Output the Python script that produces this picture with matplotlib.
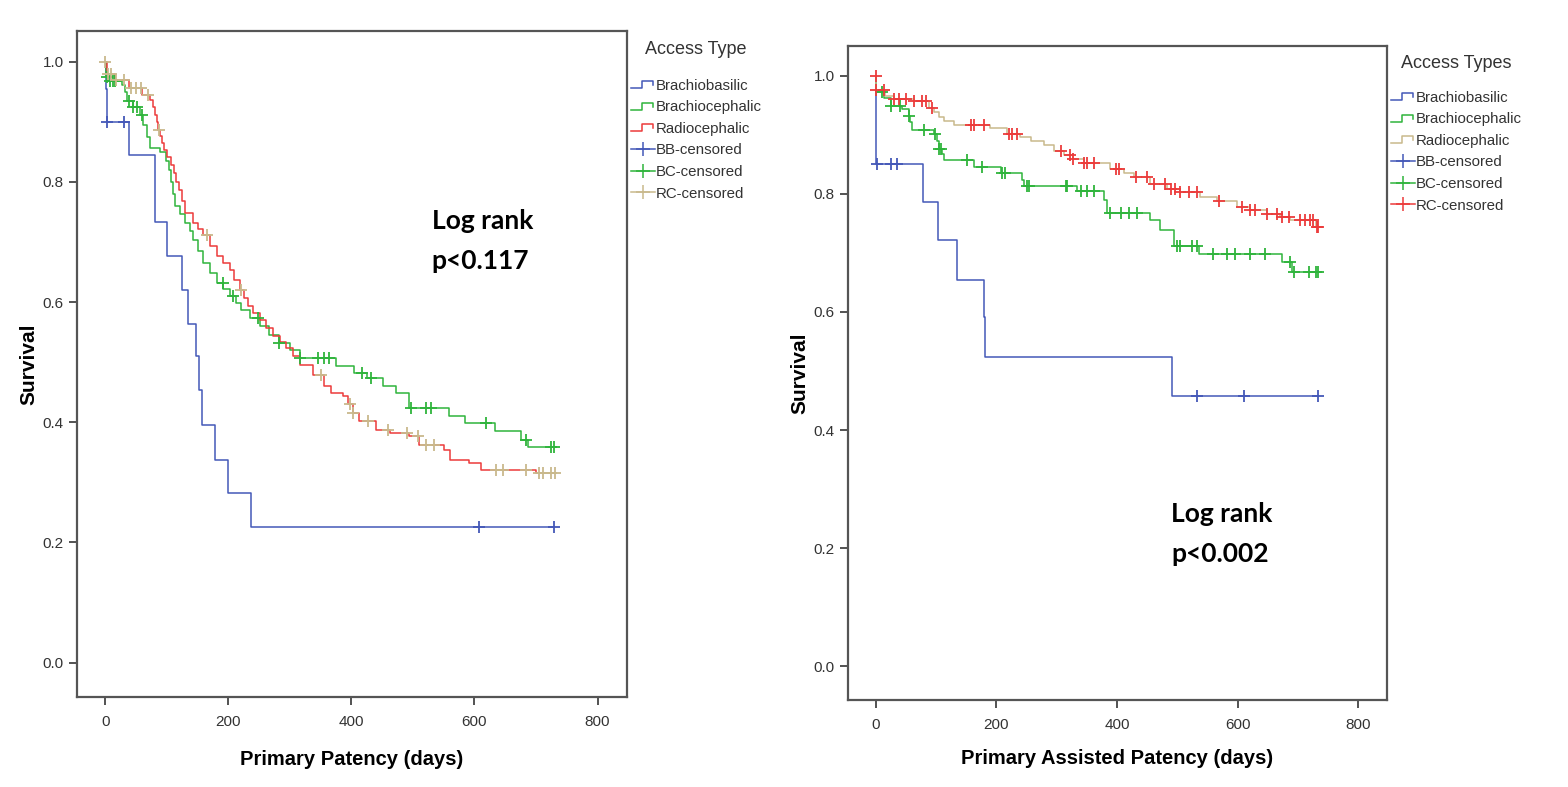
import matplotlib
matplotlib.use('Agg')
import matplotlib.pyplot as plt
from matplotlib.lines import Line2D
from matplotlib.legend_handler import HandlerBase
import numpy as np

# colours of the SPSS-style survival plot
BLUE = '#4458b8'
GREEN = '#2fb43c'
RED = '#ec3b3b'
TAN = '#c9b98c'

# ---- Primary patency (left panel) ----
pp_bb_t = [0, 0.5, 2, 38, 80, 101, 125, 135, 148, 152, 157, 178, 200, 237, 730]
pp_bb_s = [1.0, 0.955, 0.90, 0.845, 0.733, 0.676, 0.62, 0.564, 0.51, 0.453, 0.395, 0.338, 0.282, 0.226, 0.226]
pp_bb_cens = [3, 30, 608, 730]

pp_bc_t = [0, 1, 5, 27, 32, 35, 45, 57, 62, 68, 73, 89, 98, 103, 106, 110, 113, 122, 130, 137,
           143, 151, 159, 170, 181, 192, 202, 212, 221, 236, 251, 266, 283, 300, 316, 375, 405,
           426, 451, 472, 494, 559, 585, 634, 675, 687, 731]
pp_bc_s = [1.0, 0.975, 0.968, 0.962, 0.95, 0.934, 0.925, 0.912, 0.895, 0.875, 0.857, 0.849, 0.835,
           0.82, 0.80, 0.78, 0.76, 0.746, 0.732, 0.718, 0.704, 0.685, 0.665, 0.648, 0.632, 0.621,
           0.61, 0.598, 0.587, 0.574, 0.56, 0.546, 0.532, 0.52, 0.507, 0.494, 0.482, 0.474, 0.461,
           0.448, 0.424, 0.411, 0.399, 0.385, 0.371, 0.359, 0.359]
pp_bc_cens = [3, 8, 12, 16, 38, 45, 52, 60, 191, 208, 248, 283, 316, 345, 356, 364, 418, 432,
              497, 521, 529, 618, 684, 725, 730]

pp_rc_t = [0, 2, 16, 38, 59, 73, 78, 81, 84, 86, 89, 92, 96, 100, 106, 111, 115, 119, 125, 130,
           143, 151, 159, 170, 181, 192, 202, 210, 219, 226, 232, 240, 251, 262, 273, 284, 294,
           305, 316, 337, 356, 367, 386, 395, 402, 413, 440, 462, 494, 510, 551, 561, 591, 610,
           700, 731]
pp_rc_s = [1.0, 0.98, 0.97, 0.956, 0.945, 0.937, 0.925, 0.912, 0.90, 0.887, 0.876, 0.865, 0.853,
           0.842, 0.828, 0.815, 0.80, 0.787, 0.768, 0.748, 0.731, 0.722, 0.712, 0.694, 0.676, 0.665,
           0.654, 0.637, 0.62, 0.606, 0.593, 0.582, 0.571, 0.557, 0.543, 0.533, 0.523, 0.51, 0.496,
           0.479, 0.46, 0.449, 0.443, 0.43, 0.415, 0.402, 0.388, 0.382, 0.377, 0.363, 0.354, 0.337,
           0.332, 0.321, 0.316, 0.316]
pp_rc_cens = [0, 5, 10, 18, 30, 42, 50, 58, 70, 88, 165, 221, 350, 397, 402, 427, 459, 491, 508,
              521, 535, 635, 646, 684, 705, 711, 725, 731]

# ---- Primary assisted patency (right panel) ----
pap_bb_t = [0, 1, 79, 104, 135, 179, 181, 491, 733]
pap_bb_s = [1.0, 0.85, 0.786, 0.721, 0.654, 0.591, 0.5245, 0.4585, 0.4585]
pap_bb_cens = [2, 25, 36, 533, 611, 733]

pap_bc_t = [0, 1, 14, 25, 44, 55, 57, 61, 97, 102, 105, 110, 113, 163, 207, 243, 246, 334, 378,
            383, 455, 472, 494, 536, 674, 690, 733]
pap_bc_s = [1.0, 0.972, 0.963, 0.949, 0.944, 0.932, 0.921, 0.908, 0.901, 0.89, 0.876, 0.868,
            0.857, 0.846, 0.836, 0.823, 0.814, 0.805, 0.789, 0.767, 0.755, 0.739, 0.712, 0.698,
            0.684, 0.667, 0.667]
pap_bc_cens = [11, 25, 41, 55, 80, 99, 105, 108, 152, 177, 210, 215, 251, 254, 315, 318, 340,
               351, 362, 389, 406, 420, 433, 500, 505, 525, 533, 560, 582, 596, 621, 646, 687,
               693, 718, 730, 733]

pap_rc_t = [0, 1, 16, 30, 63, 88, 97, 105, 113, 130, 190, 218, 240, 257, 279, 295, 312, 328, 345,
            389, 411, 428, 455, 483, 505, 538, 566, 599, 621, 649, 671, 687, 730, 734]
pap_rc_s = [1.0, 0.975, 0.966, 0.961, 0.958, 0.946, 0.938, 0.93, 0.924, 0.917, 0.911, 0.901,
            0.897, 0.89, 0.882, 0.873, 0.865, 0.859, 0.852, 0.842, 0.836, 0.828, 0.817, 0.808,
            0.803, 0.794, 0.788, 0.777, 0.772, 0.766, 0.760, 0.755, 0.743, 0.743]
pap_rc_cens = [0, 1, 14, 30, 39, 50, 63, 77, 83, 94, 158, 163, 180, 221, 226, 235, 307, 323, 328,
               345, 351, 362, 398, 403, 431, 450, 461, 480, 489, 497, 505, 519, 533, 569, 607,
               621, 629, 649, 665, 674, 685, 704, 712, 720, 726, 732, 734]

x_ticks = [0, 200, 400, 600, 800]
y_ticks = [0.0, 0.2, 0.4, 0.6, 0.8, 1.0]
legend_labels = ['Brachiobasilic', 'Brachiocephalic', 'Radiocephalic',
                 'BB-censored', 'BC-censored', 'RC-censored']

NARROW = ['Liberation Sans Narrow', 'Liberation Sans', 'DejaVu Sans']
BOLDF = ['Lato', 'DejaVu Sans']


class StepHandler(HandlerBase):
    # little step icon as SPSS draws it in the legend
    def create_artists(self, legend, orig_handle, xdescent, ydescent, width, height, fontsize, trans):
        xs = np.array([0, 0.45, 0.45, 0.92, 0.92]) * width - xdescent
        ys = np.array([0.15, 0.15, 0.85, 0.85, 0.45]) * height - ydescent
        ln = Line2D(xs, ys, color=orig_handle.get_color(), lw=orig_handle.get_linewidth())
        ln.set_transform(trans)
        return [ln]


def km_value(t, s, c):
    idx = np.searchsorted(t, c, side='right') - 1
    return np.asarray(s)[idx]


def draw_panel(ax, curves, xlabel, xlabelpad, title, title_pos, leg_pos, note, note_pos):
    for t, s, cens, lc, cc in curves:
        ax.step(t, s, where='post', color=lc, lw=1.1)
    for t, s, cens, lc, cc in curves:
        ax.plot(cens, km_value(t, s, cens), ls='none', marker='+', ms=9, mew=1.3, color=cc)

    ax.set_xlim(-46, 848)
    ax.set_ylim(-0.057, 1.051)
    ax.set_xticks(x_ticks)
    ax.set_yticks(y_ticks)
    ax.set_yticklabels(['%.1f' % v for v in y_ticks])
    ax.tick_params(direction='out', length=6, width=1.3, color='#444444', labelsize=11,
                   labelcolor='#333333')
    ax.tick_params(axis='x', pad=7)
    for lab in ax.get_xticklabels() + ax.get_yticklabels():
        lab.set_family(NARROW)
    for sp in ax.spines.values():
        sp.set_color('#555555')
        sp.set_linewidth(1.6)
    ax.set_xlabel(xlabel, family=NARROW, fontweight='bold', fontsize=14.5, labelpad=xlabelpad)
    ax.set_ylabel('Survival', family=NARROW, fontweight='bold', fontsize=15, labelpad=3)

    handles = [Line2D([], [], color=c[3], lw=1.1) for c in curves]
    handles += [Line2D([], [], color=c[4], lw=1.1, marker='+', ms=10, mew=1.1) for c in curves]
    leg = ax.legend(handles, legend_labels, loc='upper left',
                    bbox_to_anchor=leg_pos, bbox_transform=fig.transFigure, frameon=False,
                    prop={'family': NARROW, 'size': 10.8},
                    handlelength=1.6, handletextpad=0.05, labelspacing=0.5, borderaxespad=0,
                    borderpad=0, handler_map={h: StepHandler() for h in handles[:3]})
    for txt in leg.get_texts():
        txt.set_color('#333333')
    fig.text(title_pos[0], title_pos[1], title, family=NARROW, fontsize=13, color='#333333',
             ha='center', va='center')

    ax.text(note_pos[0], note_pos[1], note, transform=ax.transAxes, family=BOLDF,
            fontweight='bold', fontsize=19, va='top', ha='left', linespacing=1.8)


fig = plt.figure(figsize=(15.68, 7.87), dpi=100)
ax1 = fig.add_axes([0.0491, 0.1144, 0.3508, 0.8462])
ax2 = fig.add_axes([0.5408, 0.1105, 0.3438, 0.8316])

draw_panel(ax1,
           [(pp_bb_t, pp_bb_s, pp_bb_cens, BLUE, BLUE),
            (pp_bc_t, pp_bc_s, pp_bc_cens, GREEN, GREEN),
            (pp_rc_t, pp_rc_s, pp_rc_cens, RED, TAN)],
           'Primary Patency (days)', 15, 'Access Type', (0.4435, 1 - 50 / 787),
           (0.4025, 1 - 79 / 787),
           'Log rank\np<0.117', (0.645, 0.733))

draw_panel(ax2,
           [(pap_bb_t, pap_bb_s, pap_bb_cens, BLUE, BLUE),
            (pap_bc_t, pap_bc_s, pap_bc_cens, GREEN, GREEN),
            (pap_rc_t, pap_rc_s, pap_rc_cens, TAN, RED)],
           'Primary Assisted Patency (days)', 12, 'Access Types', (0.9285, 1 - 63 / 787),
           (0.8870, 1 - 91 / 787),
           'Log rank\np<0.002', (0.6, 0.302))

fig.savefig('out.png', dpi=100, facecolor='white')
